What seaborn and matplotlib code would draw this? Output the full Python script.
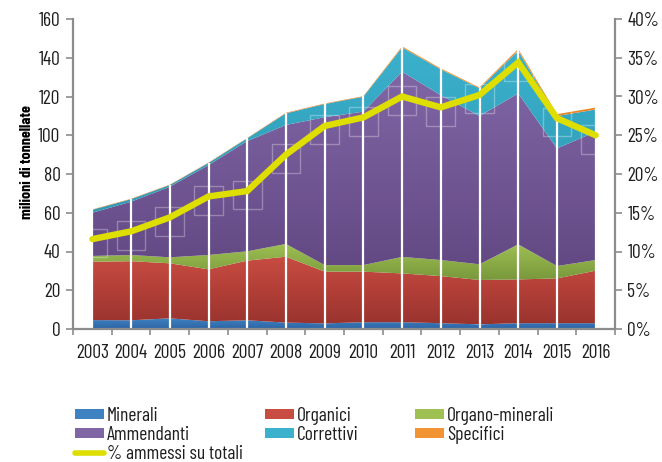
import matplotlib
matplotlib.use("Agg")
import matplotlib.pyplot as plt
import numpy as np
import pandas as pd
import seaborn as sns
from matplotlib import font_manager
from matplotlib.colors import LinearSegmentedColormap
from matplotlib.lines import Line2D
from matplotlib.patches import Patch
from matplotlib.ticker import FuncFormatter

sns.set_theme(style="white")

available = {f.name for f in font_manager.fontManager.ttflist}
condensed = next((f for f in ["Barlow Condensed", "Archivo Narrow", "Asap Condensed"] if f in available),
                 "Liberation Sans")
plt.rcParams["font.family"] = [condensed, "DejaVu Sans"]

# data (million tonnes per category)
years = [2003, 2004, 2005, 2006, 2007, 2008, 2009, 2010, 2011, 2012, 2013, 2014, 2015, 2016]
minerali = [4.6, 4.5, 5.5, 4.0, 4.5, 3.3, 2.9, 3.5, 3.5, 3.0, 2.4, 3.0, 3.0, 3.0]
organici = [30.1, 30.5, 28.4, 26.8, 30.8, 34.0, 26.7, 26.1, 25.2, 24.3, 22.9, 22.6, 23.1, 27.1]
organo_minerali = [3.0, 3.2, 3.1, 7.4, 4.8, 6.6, 3.4, 3.4, 8.5, 8.3, 8.1, 18.1, 6.4, 5.5]
ammendanti = [22.3, 27.5, 36.4, 46.4, 56.9, 61.4, 76.3, 79.2, 95.6, 85.1, 76.5, 77.9, 60.7, 66.2]
correttivi = [1.5, 1.3, 0.9, 1.1, 1.4, 6.0, 6.8, 7.7, 12.5, 13.3, 14.3, 22.0, 16.7, 11.5]
specifici = [0.2, 0.2, 0.2, 0.2, 0.2, 0.3, 0.3, 0.3, 0.6, 0.5, 0.5, 1.0, 1.0, 1.0]
pct_ammessi = [11.6, 12.6, 14.4, 17.1, 17.8, 22.5, 26.2, 27.3, 30.0, 28.6, 30.2, 34.4, 27.2, 25.0]

series = [
    ("Minerali", minerali, "#3f82c2", "#2d64a4"),
    ("Organici", organici, "#c94c42", "#9a332e"),
    ("Organo-minerali", organo_minerali, "#9fc053", "#78983c"),
    ("Ammendanti", ammendanti, "#8166a6", "#634984"),
    ("Correttivi", correttivi, "#3bb1cd", "#2f9ab4"),
    ("Specifici", specifici, "#f29434", "#d9781e"),
]

GREY = "#8c8c8c"
TXT = "#1e1e1e"

fig = plt.figure(figsize=(6.62, 4.62), dpi=100)
ax = fig.add_axes([73 / 662, 1 - 329 / 462, 542 / 662, 310 / 462])
ax.set_facecolor("white")

x = np.array(years, dtype=float)
lower = np.zeros(len(years))
for name, vals, top_c, bot_c in series:
    upper = lower + np.array(vals)
    poly = ax.fill_between(x, lower, upper, facecolor="none", edgecolor="none")
    cmap = LinearSegmentedColormap.from_list(name, [bot_c, top_c])
    grad = np.linspace(0, 1, 256).reshape(-1, 1)
    img = ax.imshow(grad, cmap=cmap, origin="lower", aspect="auto",
                    extent=[x[0], x[-1], lower.min(), upper.max()], zorder=1)
    img.set_clip_path(poly.get_paths()[0], transform=ax.transData)
    lower = upper

# white separators at every year
ax.vlines(x, 0, lower, colors="white", linewidth=1.6, zorder=2)

ax.set_xlim(2002.5, 2016.5)
ax.set_ylim(0, 160)
ax.set_yticks(range(0, 161, 20))
ax.set_xticks(np.arange(2002.5, 2017, 1))
ax.set_xticklabels([])
ax.set_xticks(years, minor=True)
ax.set_xticklabels([str(y) for y in years], minor=True)
ax.tick_params(axis="x", which="major", direction="out", length=4, width=1.2, color=GREY, bottom=True)
ax.tick_params(axis="x", which="minor", length=0, pad=11, labelsize=14, labelcolor=TXT)
ax.tick_params(axis="y", direction="out", length=5, width=1.2, color=GREY, left=True,
               labelsize=14, labelcolor=TXT, pad=4)
ax.set_ylabel("milioni di tonnellate", fontsize=11.5, fontweight="bold", color="black")
ax.yaxis.set_label_coords(-0.072, 0.54)
for side in ["top", "right"]:
    ax.spines[side].set_visible(False)
for side in ["left", "bottom"]:
    ax.spines[side].set_color(GREY)
    ax.spines[side].set_linewidth(1.6)
ax.grid(False)

ax2 = ax.twinx()
line_df = pd.DataFrame({"anno": years, "pct": [p / 100 for p in pct_ammessi]})
# faint square frames behind the line points
ax2.scatter(line_df["anno"], line_df["pct"] - 0.005, marker="s", s=430, facecolors="none",
            edgecolors=(1, 1, 1, 0.3), linewidths=1.0, zorder=3)
sns.lineplot(data=line_df, x="anno", y="pct", ax=ax2, color="#dede00", linewidth=4.6,
             solid_capstyle="round", solid_joinstyle="miter", zorder=5)
ax2.set_ylim(0, 0.40)
ax2.set_xlim(2002.5, 2016.5)
ax2.set_yticks(np.arange(0, 0.41, 0.05))
ax2.yaxis.set_major_formatter(FuncFormatter(lambda v, _: f"{v * 100:.0f}%"))
ax2.set_ylabel("")
ax2.set_xlabel("")
ax2.tick_params(axis="y", direction="out", length=5, width=1.2, color=GREY, right=True,
                labelsize=14, labelcolor=TXT, pad=4)
for side in ["top", "left", "bottom"]:
    ax2.spines[side].set_visible(False)
ax2.spines["right"].set_color(GREY)
ax2.spines["right"].set_linewidth(1.6)
ax2.grid(False)

handles = {name: Patch(facecolor=top_c, edgecolor="none") for name, _, top_c, _ in series}
handles["% ammessi su totali"] = Line2D([0], [0], color="#dede00", linewidth=4)

columns = [
    (75, ["Minerali", "Ammendanti", "% ammessi su totali"]),
    (265, ["Organici", "Correttivi"]),
    (415, ["Organo-minerali", "Specifici"]),
]
for x_px, names in columns:
    fig.legend([handles[n] for n in names], names, loc="upper left",
               bbox_to_anchor=(x_px / 662, 1 - 407 / 462), frameon=False,
               fontsize=14, handlelength=1.5, handleheight=0.36, handletextpad=0.15,
               labelspacing=0.05, borderpad=0, borderaxespad=0, labelcolor=TXT)

fig.savefig("out.png", dpi=100)
